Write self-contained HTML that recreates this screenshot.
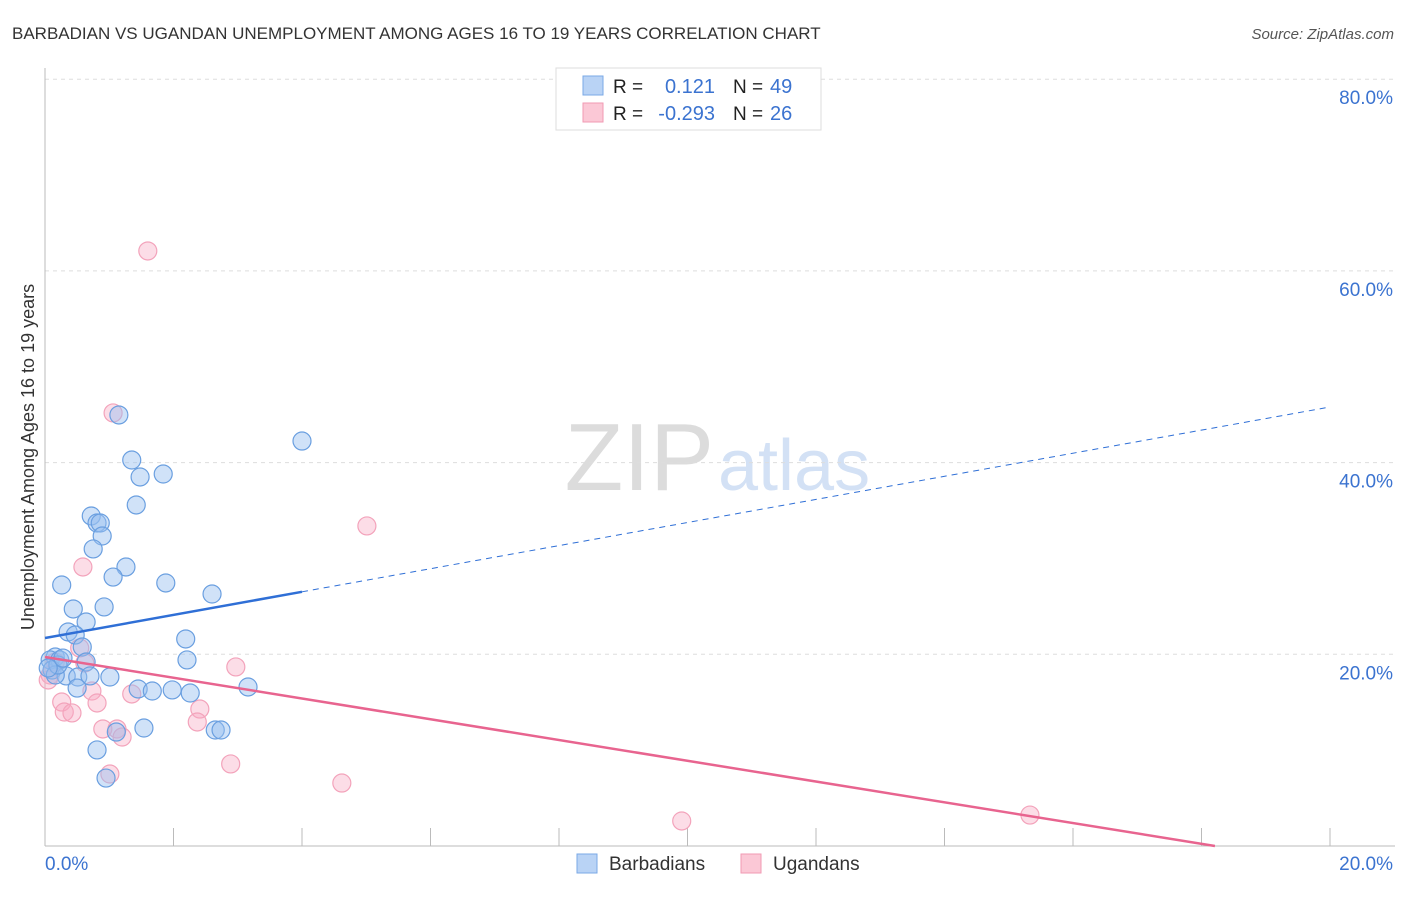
<!DOCTYPE html>
<html><head><meta charset="utf-8"><style>
body{margin:0;background:#fff;font-family:"Liberation Sans",sans-serif}
svg text{font-family:"Liberation Sans",sans-serif}
</style></head><body>
<svg id="chart" width="1406" height="892">
<text x="12" y="39" font-size="17" fill="#333">BARBADIAN VS UGANDAN UNEMPLOYMENT AMONG AGES 16 TO 19 YEARS CORRELATION CHART</text>
<text x="1394" y="39" font-size="15" fill="#555" font-style="italic" text-anchor="end">Source: ZipAtlas.com</text>
<text x="714" y="490" font-size="96" fill="#dcdcdc" font-family="Liberation Serif" text-anchor="end">ZIP</text>
<text x="718" y="490" font-size="72" fill="#d3e1f5">atlas</text>
<g id="grid"></g><g id="axes"></g><g id="marks"></g>
<text transform="translate(34,457) rotate(-90)" font-size="18" fill="#333" text-anchor="middle">Unemployment Among Ages 16 to 19 years</text>
<g>
<rect x="556" y="68" width="265" height="62" fill="#fff" stroke="#ddd"/>
<rect x="583" y="76" width="20" height="19" fill="#b9d3f5" stroke="#7aa8e6"/>
<rect x="583" y="103" width="20" height="19" fill="#fbc8d6" stroke="#f09ab3"/>
<text x="613" y="93" font-size="19" fill="#222">R =</text><text x="715" y="93" font-size="20" fill="#3b73d0" text-anchor="end">0.121</text>
<text x="733" y="93" font-size="19" fill="#222">N =</text><text x="770" y="93" font-size="20" fill="#3b73d0">49</text>
<text x="613" y="120" font-size="19" fill="#222">R =</text><text x="715" y="120" font-size="20" fill="#3b73d0" text-anchor="end">-0.293</text>
<text x="733" y="120" font-size="19" fill="#222">N =</text><text x="770" y="120" font-size="20" fill="#3b73d0">26</text>
</g>
<g>
<rect x="577" y="854" width="20" height="19" fill="#b9d3f5" stroke="#7aa8e6"/>
<text x="609" y="870" font-size="19" fill="#333">Barbadians</text>
<rect x="741" y="854" width="20" height="19" fill="#fbc8d6" stroke="#f09ab3"/>
<text x="773" y="870" font-size="19" fill="#333">Ugandans</text>
</g>
</svg>
<script>
const blueX=[1.15,1.35,1.48,1.84,1.42,0.72,0.81,0.86,0.89,0.75,1.26,0.26,1.06,1.88,2.60,0.44,0.92,0.64,0.36,0.47,2.19,0.58,0.16,0.08,0.23,2.21,0.64,0.11,0.33,1.01,0.51,0.70,0.16,1.45,1.67,1.98,2.26,0.50,3.16,1.54,1.11,2.65,2.74,0.81,0.95,4.00,0.20,0.05,0.28];
const blueY=[44.97,40.27,38.50,38.81,35.58,34.43,33.70,33.70,32.34,30.99,29.11,27.23,28.06,27.44,26.29,24.73,24.94,23.37,22.33,22.01,21.60,20.76,19.72,19.41,19.41,19.41,19.20,18.36,17.74,17.63,17.63,17.74,17.84,16.38,16.17,16.28,15.96,16.48,16.59,12.31,11.89,12.10,12.10,10.02,7.09,42.25,18.88,18.57,19.61];
const pinkX=[1.60,1.06,5.01,0.59,0.54,2.97,0.16,0.08,0.05,0.62,0.73,1.35,0.26,0.81,0.30,0.42,2.41,2.37,0.90,1.12,1.20,2.89,1.01,4.62,9.91,15.33];
const pinkY=[62.08,45.18,33.39,29.11,20.66,18.68,19.20,17.84,17.32,19.09,16.17,15.86,15.02,14.92,13.98,13.88,14.29,12.94,12.21,12.21,11.37,8.56,7.51,6.57,2.61,3.23];
const blueLine=[21.7,45.8];   // y at x=0, x=20
const blueSolidEnd=4.0;
const pinkLine=[19.72,-1.94];
const yTicks=[20,40,60,80];
const xTickVals=[0,2,4,6,8,10,12,14,16,18,20];
const NS="http://www.w3.org/2000/svg";
const xs=v=>45+v/20*1285, ys=v=>846-v/20*191.7;
function mk(tag,attrs,parent){const e=document.createElementNS(NS,tag);for(const k in attrs)e.setAttribute(k,attrs[k]);document.getElementById(parent).appendChild(e);return e;}
yTicks.forEach(t=>{
 const l=mk('line',{x1:45,x2:1395,y1:ys(t),y2:ys(t),stroke:'#ddd','stroke-dasharray':'4,4'},'grid');
 
 
 const tx=mk('text',{x:1393,y:ys(t)+25,'font-size':19,fill:'#3b73d0','text-anchor':'end'},'grid');
 tx.textContent=t.toFixed(1)+'%';
 
 
});
mk('line',{x1:45,x2:45,y1:68,y2:846,stroke:'#bbb'},'axes');
mk('line',{x1:45,x2:1395,y1:846,y2:846,stroke:'#bbb'},'axes');
xTickVals.forEach(t=>{const l=mk('line',{x1:xs(t),x2:xs(t),y1:828,y2:846,stroke:'#bbb'},'axes');
 
 });
const x0=mk('text',{x:45,y:870,'font-size':19,fill:'#3b73d0'},'axes');x0.textContent='0.0%';


const x1=mk('text',{x:1393,y:870,'font-size':19,fill:'#3b73d0','text-anchor':'end'},'axes');x1.textContent='20.0%';


pinkX.forEach((v,i)=>{const c=mk('circle',{cx:xs(v),cy:ys(pinkY[i]),r:9,fill:'rgba(248,170,195,0.4)',stroke:'#f3a3bb','stroke-width':1.2},'marks');
 
 });
blueX.forEach((v,i)=>{const c=mk('circle',{cx:xs(v),cy:ys(blueY[i]),r:9,fill:'rgba(150,190,240,0.45)',stroke:'#6a9fe0','stroke-width':1.2},'marks');
 
 });
const bAt=x=>blueLine[0]+(blueLine[1]-blueLine[0])*x/20;
const bs=mk('line',{x1:xs(0),y1:ys(bAt(0)),x2:xs(blueSolidEnd),y2:ys(bAt(blueSolidEnd)),stroke:'#2f6fd6','stroke-width':2.5},'marks');


const bd=mk('line',{x1:xs(blueSolidEnd),y1:ys(bAt(blueSolidEnd)),x2:xs(20),y2:ys(bAt(20)),stroke:'#2f6fd6','stroke-width':1,'stroke-dasharray':'6,5'},'marks');


const pEnd=Math.min(20,-pinkLine[0]/((pinkLine[1]-pinkLine[0])/20));
const pAt=x=>pinkLine[0]+(pinkLine[1]-pinkLine[0])*x/20;
const pl=mk('line',{x1:xs(0),y1:ys(pAt(0)),x2:xs(pEnd),y2:ys(pAt(pEnd)),stroke:'#e8648f','stroke-width':2.5},'marks');


</script>
</body></html>
